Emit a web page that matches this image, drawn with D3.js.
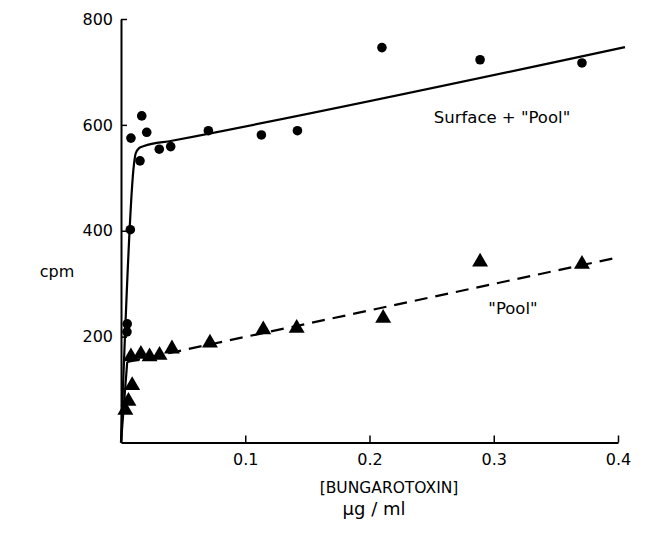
<!DOCTYPE html>
<html>
<head>
<meta charset="utf-8">
<script src="https://cdn.jsdelivr.net/npm/d3@7"></script>
<style>
  html, body { margin: 0; padding: 0; background: #fff; }
  svg { display: block; }
  text { font-family: "DejaVu Sans", sans-serif; fill: #000; }
</style>
</head>
<body>
<div id="chart"></div>
<script>
// ---- data ----
const surfaceX = [0.0048, 0.0050, 0.0075, 0.0080, 0.0153, 0.0167, 0.0207, 0.0308, 0.0400, 0.0703, 0.113, 0.142, 0.210, 0.289, 0.371];
const surfaceY = [209, 224, 402, 575, 532, 617, 586, 554, 559, 589, 581, 589, 746, 723, 717];

const poolX = [0.0035, 0.0060, 0.0090, 0.0080, 0.0160, 0.0230, 0.0310, 0.0410, 0.0716, 0.1145, 0.1414, 0.211, 0.289, 0.371];
const poolY = [61, 78, 108, 162, 167, 162, 165, 177, 188, 213, 216, 235, 341, 337];

// fitted curves (hand-drawn in the original)
const surfaceFitX = [0, 0.0105, 0.0118, 0.0145, 0.0185, 0.0410, 0.4056];
const surfaceFitY = [0, 527, 546, 556, 560, 570, 747];
const poolFitX = [0, 0.0050, 0.4008];
const poolFitY = [0, 152, 350];

const xTicks = [0.1, 0.2, 0.3, 0.4];
const xTickLabels = ["0.1", "0.2", "0.3", "0.4"];
const yTicks = [200, 400, 600, 800];

const W = 660, H = 534;
const svg = d3.select("#chart").append("svg").attr("width", W).attr("height", H);

const x = d3.scaleLinear().domain([0, 0.4]).range([121, 618]);
const y = d3.scaleLinear().domain([0, 800]).range([442.5, 19]);

// axes
const xAxis = d3.axisBottom(x).tickValues(xTicks)
  .tickFormat((d, i) => xTickLabels[i]).tickSizeInner(-7).tickSizeOuter(0).tickPadding(11);
const yAxis = d3.axisLeft(y).tickValues(yTicks)
  .tickFormat(d3.format("d")).tickSizeInner(-6).tickSizeOuter(0).tickPadding(8);

const gx = svg.append("g").attr("transform", `translate(0,${y(0)})`).call(xAxis);
const gy = svg.append("g").attr("transform", `translate(${x(0)},0)`).call(yAxis);
[gx, gy].forEach(g => {
  g.select(".domain").attr("stroke", "#000").attr("stroke-width", 2);
  g.selectAll(".tick line").attr("stroke", "#000").attr("stroke-width", 1.5);
  g.selectAll(".tick text").attr("font-family", "DejaVu Sans, sans-serif").attr("font-size", 16).attr("fill", "#000");
});

// fitted lines
const line = d3.line().x((d) => x(d[0])).y((d) => y(d[1]));
const surfFit = surfaceFitX.map((v, i) => [v, surfaceFitY[i]]);
svg.append("path").datum(surfFit)
  .attr("d", line.curve(d3.curveMonotoneX))
  .attr("fill", "none").attr("stroke", "#000").attr("stroke-width", 2.2);

const poolFit = poolFitX.map((v, i) => [v, poolFitY[i]]);
const lineStraight = d3.line().x((d) => x(d[0])).y((d) => y(d[1]));
svg.append("path").datum(poolFit.slice(0, 2))
  .attr("d", lineStraight)
  .attr("fill", "none").attr("stroke", "#000").attr("stroke-width", 2.2);
svg.append("path").datum(poolFit.slice(1))
  .attr("d", lineStraight)
  .attr("fill", "none").attr("stroke", "#000").attr("stroke-width", 2.2)
  .attr("stroke-dasharray", "13,8");

// points
svg.append("g").selectAll("circle")
  .data(surfaceX.map((v, i) => [v, surfaceY[i]]))
  .join("circle")
  .attr("cx", d => x(d[0])).attr("cy", d => y(d[1])).attr("r", 4.8)
  .attr("fill", "#000");

const tri = d3.symbol().type(d3.symbolTriangle).size(110);
svg.append("g").selectAll("path")
  .data(poolX.map((v, i) => [v, poolY[i]]))
  .join("path")
  .attr("d", tri)
  .attr("transform", d => `translate(${x(d[0])},${y(d[1])})`)
  .attr("fill", "#000");

// labels
svg.append("text").attr("x", 502).attr("y", 123).attr("text-anchor", "middle")
  .attr("font-size", 16.5).text("Surface + \"Pool\"");
svg.append("text").attr("x", 513).attr("y", 314).attr("text-anchor", "middle")
  .attr("font-size", 16.5).text("\"Pool\"");

svg.append("text").attr("x", 57).attr("y", 277).attr("text-anchor", "middle")
  .attr("font-size", 16).text("cpm");

svg.append("text").attr("x", 389).attr("y", 493).attr("text-anchor", "middle")
  .attr("font-size", 15.5).text("[BUNGAROTOXIN]");
svg.append("text").attr("x", 374).attr("y", 515).attr("text-anchor", "middle")
  .attr("font-size", 18).text("μg / ml");
</script>
</body>
</html>
